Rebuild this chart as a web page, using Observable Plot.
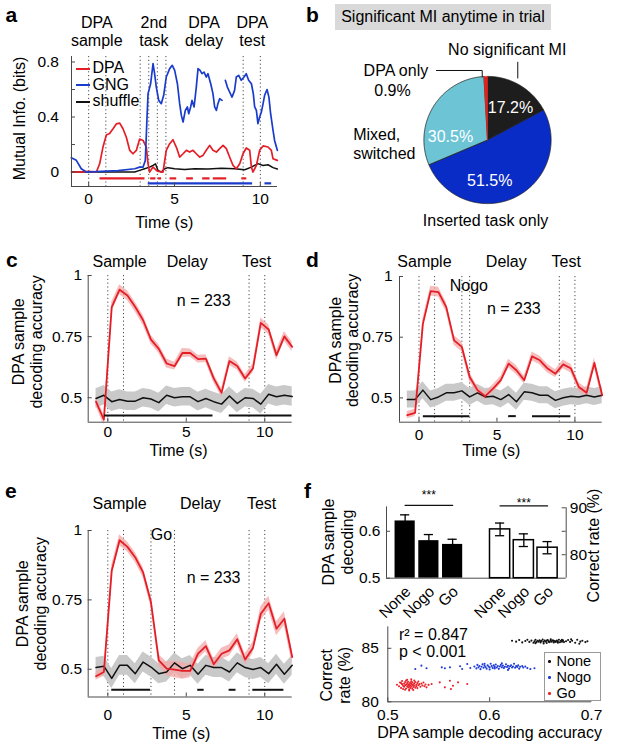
<!DOCTYPE html>
<html><head><meta charset="utf-8">
<script src="https://cdn.jsdelivr.net/npm/d3@7"></script>
<script src="https://cdn.jsdelivr.net/npm/@observablehq/plot@0.6"></script>
<style>
body{margin:0;background:#fff;}
#fig{position:relative;width:617px;height:748px;overflow:hidden;background:#fff;font-family:Arial,"Liberation Sans",Helvetica,sans-serif;color:#000;}
.letter{position:absolute;font-size:21px;font-weight:bold;line-height:21px;}
</style></head>
<body><div id="fig"></div>
<script>
// ---------------- DATA ----------------
// Panel a: mutual information traces
const aDpaT = [-1,-0.5,0,0.45,0.64,0.83,1.03,1.22,1.42,1.61,1.81,2.0,2.19,2.39,2.58,2.78,2.97,3.17,3.36,3.46,3.55,3.75,4.0,4.33,4.52,4.72,4.91,5.11,5.30,5.50,5.69,5.88,6.08,6.27,6.47,6.66,6.85,7.05,7.24,7.44,7.63,7.83,8.02,8.21,8.41,8.60,8.80,8.99,9.18,9.38,9.48,9.57,9.77,9.96,10.16,10.45,10.64,10.74,10.99];
const aDpaV = [0,0,0.005,0,0.06,0.18,0.27,0.28,0.315,0.35,0.356,0.315,0.255,0.158,0.133,0.158,0.24,0.23,0.18,0.06,0,0.036,0.007,0,0.158,0.206,0.235,0.18,0.109,0.133,0.158,0.145,0.158,0.133,0.109,0.121,0.158,0.194,0.158,0.145,0.17,0.194,0.17,0.109,0.048,0.024,0.061,0.133,0.175,0.158,0.036,0,0.048,0.158,0.19,0.182,0.158,0.097,0.085];
const aGngT = [-1.01,-0.72,-0.43,-0.14,0.74,1.71,2.68,2.97,3.17,3.30,3.40,3.46,3.61,3.75,3.84,3.94,4.08,4.23,4.37,4.52,4.72,4.87,5.01,5.17,5.30,5.40,5.50,5.63,5.75,5.83,5.94,6.02,6.14,6.27,6.37,6.49,6.60,6.72,6.85,6.95,7.11,7.24,7.34,7.44,7.53,7.63,7.77,7.87,7.96,8.08,8.21,8.35,8.50,8.60,8.74,8.89,9.05,9.18,9.32,9.48,9.59,9.67,9.77,9.86,9.96,10.06,10.16,10.25,10.39,10.50,10.60,10.74,10.83,10.99];
const aGngV = [0.104,0.085,0.024,0,0.005,0.01,0.024,0.036,0.036,0.085,0.4,0.57,0.642,0.788,0.715,0.618,0.521,0.497,0.558,0.691,0.752,0.776,0.739,0.642,0.497,0.412,0.364,0.448,0.473,0.424,0.473,0.521,0.473,0.618,0.752,0.739,0.715,0.727,0.691,0.715,0.642,0.57,0.473,0.448,0.497,0.533,0.521,NaN,0.667,0.618,0.582,0.545,0.594,0.691,0.703,0.667,0.691,0.715,0.667,0.642,0.57,0.473,0.448,0.352,0.4,0.436,0.497,0.558,0.6,0.545,0.424,0.303,0.23,0.158];
const aShufT = [-1,2.68,2.97,3.26,3.55,3.75,3.89,4.04,4.23,4.43,4.62,5.01,5.59,6.18,6.95,7.73,8.50,9.09,9.48,9.86,10.16,10.45,10.74,10.99];
const aShufV = [0,0,0.012,0.024,0.036,0.048,0.06,0.012,0,0.024,0.032,0.024,0.019,0.024,0.022,0.027,0.024,0.017,0.036,0.061,0.048,0.053,0.032,0.022];
const aSigDpa = [[0.66,3.28],[3.61,3.92],[4.06,4.25],[4.74,5.13],[5.71,6.1],[6.64,7.07],[7.26,8.04],[8.92,9.21]];
const aSigGng = [[3.47,9.55],[10.27,10.66]];
const aEvents = [0,1,3,3.5,4,4.5,9,10];
const aPhaseNames = ["DPA\nsample","2nd\ntask","DPA\ndelay","DPA\ntest"];
const aSeriesNames = ["DPA","GNG","shuffle"];

// Panel b: pie
const pieNames = ["No significant MI","Inserted task only","Mixed, switched","DPA only"];
const pieValues = [17.2, 51.5, 30.5, 0.9];

// Panels c-e: decoding accuracy (0.5 s bins)
const decT = [-0.75,-0.25,0.25,0.75,1.25,1.75,2.25,2.75,3.25,3.75,4.25,4.75,5.25,5.75,6.25,6.75,7.25,7.75,8.25,8.75,9.25,9.75,10.25,10.75,11.25,11.75];
const cRed   = [0.484,0.41,0.871,0.942,0.918,0.871,0.817,0.738,0.70,0.64,0.629,0.683,0.683,0.658,0.66,0.579,0.52,0.65,0.63,0.579,0.62,0.806,0.779,0.674,0.751,0.708];
const cRedSE = [0.02,0.02,0.02,0.02,0.02,0.02,0.02,0.018,0.018,0.018,0.016,0.018,0.016,0.016,0.016,0.018,0.018,0.018,0.016,0.016,0.018,0.02,0.02,0.02,0.02,0.02];
const cShuf  = [0.497,0.51,0.484,0.493,0.486,0.486,0.50,0.495,0.48,0.51,0.50,0.504,0.504,0.484,0.497,0.484,0.474,0.507,0.477,0.50,0.497,0.474,0.514,0.504,0.51,0.505];
const cShufSE= [0.04,0.04,0.04,0.04,0.038,0.038,0.038,0.038,0.038,0.038,0.038,0.038,0.038,0.038,0.038,0.038,0.038,0.038,0.038,0.038,0.038,0.04,0.04,0.04,0.04,0.04];
const cSig = [[-0.21,6.7],[7.74,11.74]];
const dRed   = [0.429,0.438,0.805,0.94,0.936,0.874,0.737,0.71,0.586,0.532,0.507,0.538,0.573,0.641,0.614,0.573,0.671,0.655,0.621,0.6,0.638,0.621,0.545,0.521,0.644,0.511];
const dRedSE = [0.015,0.015,0.02,0.02,0.02,0.02,0.02,0.02,0.018,0.016,0.016,0.016,0.016,0.018,0.018,0.016,0.018,0.018,0.018,0.016,0.018,0.018,0.018,0.018,0.02,0.02];
const dShuf  = [0.493,0.493,0.532,0.493,0.504,0.521,0.521,0.529,0.504,0.521,0.504,0.507,0.493,0.514,0.484,0.525,0.521,0.511,0.511,0.49,0.501,0.507,0.504,0.511,0.504,0.511];
const dShufSE= [0.035,0.035,0.035,0.035,0.035,0.035,0.035,0.035,0.035,0.035,0.035,0.035,0.035,0.035,0.035,0.035,0.035,0.035,0.035,0.035,0.035,0.035,0.035,0.035,0.035,0.035];
const dSig = [[0.28,3.26],[5.75,6.24],[7.28,9.74]];
const eRed   = [0.475,0.49,0.855,0.965,0.941,0.903,0.849,0.742,0.532,0.502,0.499,0.494,0.494,0.556,0.583,0.518,0.556,0.568,0.608,0.535,0.577,0.70,0.738,0.646,0.682,0.544];
const eRedSE = [0.015,0.015,0.02,0.02,0.018,0.018,0.018,0.018,0.02,0.025,0.03,0.03,0.025,0.02,0.02,0.02,0.02,0.02,0.02,0.02,0.02,0.025,0.025,0.025,0.025,0.025];
const eShuf  = [0.506,0.511,0.467,0.514,0.514,0.484,0.526,0.508,0.484,0.49,0.523,0.502,0.514,0.482,0.514,0.506,0.506,0.49,0.523,0.506,0.499,0.506,0.484,0.518,0.482,0.514];
const eShufSE= [0.036,0.036,0.036,0.036,0.036,0.036,0.036,0.036,0.036,0.036,0.036,0.036,0.036,0.036,0.036,0.036,0.036,0.036,0.036,0.036,0.036,0.036,0.036,0.036,0.036,0.036];
const eSig = [[0.25,2.72],[5.73,6.14],[7.73,8.17],[9.24,11.22]];
const decPhaseNames = ["Sample","Delay","Test"];

// Panel f: bars
const fCond = ["None","Nogo","Go"];
const fDecode = [0.622, 0.580, 0.572];
const fDecodeErr = [0.013, 0.013, 0.011];
const fCorrect = [85.4, 83.1, 81.5];
const fCorrectErr = [1.35, 1.35, 1.3];

// Panel f: scatter (decoding accuracy, correct rate %)
const fNonePts = [[0.622,85.70],[0.626,85.62],[0.629,85.78],[0.632,85.55],[0.635,85.68],[0.637,85.80],[0.639,85.60],[0.641,85.72],[0.643,85.52],[0.644,85.66],[0.645,85.80],[0.646,85.58],[0.647,85.70],[0.648,85.62],[0.649,85.75],[0.650,85.55],[0.651,85.68],[0.652,85.82],[0.653,85.60],[0.654,85.72],[0.655,85.64],[0.656,85.50],[0.657,85.78],[0.658,85.66],[0.659,85.58],[0.660,85.70],[0.661,85.62],[0.662,85.75],[0.663,85.55],[0.664,85.68],[0.665,85.60],[0.666,85.72],[0.667,85.64],[0.668,85.80],[0.669,85.57],[0.670,85.69],[0.671,85.62],[0.672,85.74],[0.673,85.58],[0.675,85.66],[0.677,85.78],[0.679,85.60],[0.681,85.70],[0.684,85.52],[0.686,85.80],[0.689,85.62],[0.691,85.70],[0.694,85.58],[0.696,85.66],[0.688,85.42],[0.680,85.85],[0.653,85.45],[0.660,85.83],[0.645,85.48],[0.658,85.62],[0.663,85.70],[0.667,85.52],[0.650,85.66],[0.671,85.80],[0.656,85.72]];
const fNogoPts = [[0.527,83.07],[0.533,83.38],[0.538,83.13],[0.553,83.22],[0.556,83.13],[0.561,83.22],[0.571,83.32],[0.573,83.07],[0.578,83.53],[0.581,83.16],[0.585,83.30],[0.587,83.12],[0.588,83.45],[0.589,83.22],[0.590,83.35],[0.591,83.05],[0.592,83.28],[0.593,83.50],[0.594,83.18],[0.595,83.38],[0.596,83.25],[0.597,83.10],[0.598,83.42],[0.599,83.30],[0.600,83.20],[0.601,83.55],[0.602,83.33],[0.603,83.15],[0.604,83.40],[0.605,83.26],[0.606,83.48],[0.607,83.20],[0.608,83.35],[0.609,83.08],[0.610,83.30],[0.611,83.45],[0.612,83.22],[0.613,83.38],[0.614,83.15],[0.615,83.28],[0.616,83.50],[0.617,83.25],[0.618,83.36],[0.619,83.12],[0.620,83.32],[0.621,83.42],[0.622,83.20],[0.623,83.30],[0.624,83.55],[0.625,83.18],[0.626,83.35],[0.627,83.25],[0.628,83.40],[0.629,83.10],[0.630,83.28],[0.632,83.35],[0.633,83.20],[0.635,83.30],[0.637,83.15],[0.640,83.07],[0.644,83.13],[0.600,83.02],[0.612,83.60],[0.595,83.55],[0.618,82.98],[0.605,83.12]];
const fGoPts = [[0.509,81.60],[0.511,81.45],[0.512,81.80],[0.513,81.30],[0.514,81.65],[0.514,81.95],[0.515,81.50],[0.515,81.20],[0.516,81.70],[0.516,81.40],[0.517,81.85],[0.517,81.55],[0.518,81.25],[0.518,81.62],[0.518,81.98],[0.519,81.45],[0.519,81.75],[0.520,81.35],[0.520,81.58],[0.520,81.88],[0.521,81.15],[0.521,81.66],[0.521,81.48],[0.522,81.78],[0.522,81.30],[0.522,81.55],[0.523,81.92],[0.523,81.42],[0.523,81.68],[0.524,81.22],[0.524,81.58],[0.524,81.82],[0.525,81.38],[0.525,81.62],[0.525,81.10],[0.526,81.72],[0.526,81.50],[0.527,81.85],[0.527,81.32],[0.528,81.60],[0.528,81.45],[0.529,81.75],[0.529,81.28],[0.530,81.55],[0.530,81.90],[0.531,81.65],[0.532,81.40],[0.533,81.70],[0.534,81.52],[0.535,81.80],[0.536,81.45],[0.537,81.62],[0.538,81.35],[0.540,81.58],[0.519,82.05],[0.521,81.05],[0.523,82.10],[0.517,81.12],[0.526,81.98],[0.513,81.75],[0.543,81.66],[0.551,81.82],[0.556,81.35],[0.561,81.97],[0.562,81.19],[0.564,81.50],[0.569,81.82],[0.578,81.66]];
const fStats = ["r\u00B2 = 0.847", "p < 0.001"];

// ---------------- STYLE / HELPERS ----------------
const FONT = 'Arial, "Liberation Sans", Helvetica, sans-serif';
const FS = 16, TFS = 15.5;
const AX = "#4a4a4a";
const RED = "#e41e26";
const BLUE = "#1a3ccc";
const PINK = "#f4a7a7";
const GREYBAND = "#c9c9c9";
const DOT = "1.2,2.6";
const fig = document.getElementById("fig");
const baseStyle = {background: "transparent", overflow: "visible", fontFamily: FONT, fontSize: TFS + "px", color: "#000"};
const MID = {textAnchor: "middle", lineAnchor: "middle"};

function place(svg, left, top) {
  svg.style.position = "absolute";
  svg.style.left = left + "px";
  svg.style.top = top + "px";
  fig.appendChild(svg);
}
function html(inner, css) {
  const d = document.createElement("div");
  d.innerHTML = inner;
  d.style.cssText = "position:absolute;white-space:nowrap;" + css;
  fig.appendChild(d);
  return d;
}
function frameAxes({x0, y0, xt, yt, xl, yl, fw, fh, xPad, yPad, xFmt, yFmt}) {
  return [
    Plot.ruleX([x0], {stroke: AX}),
    Plot.ruleY([y0], {stroke: AX}),
    Plot.tickX(xt, {x: d => d, stroke: AX, insetTop: fh - 4}),
    Plot.tickY(yt, {y: d => d, stroke: AX, insetRight: fw - 4}),
    Plot.axisX({ticks: xl, tickSize: 0, tickPadding: xPad, label: null, tickFormat: xFmt, fontSize: TFS}),
    Plot.axisY({ticks: yl, tickSize: 0, tickPadding: yPad, label: null, tickFormat: yFmt, fontSize: TFS})
  ];
}
const zip = (t, v) => t.map((x, i) => ({t: x, v: v[i]}));

// ---------------- PANEL a ----------------
{
  const W = 300, H = 232, ml = 71, mr = 23, mt = 56, mb = 46;
  const fw = W - ml - mr, fh = H - mt - mb;
  const phaseX = [0.47, 3.8, 6.72, 9.53];
  const svg = Plot.plot({
    width: W, height: H, marginLeft: ml, marginRight: mr, marginTop: mt, marginBottom: mb, style: baseStyle,
    x: {domain: [-1, 11]}, y: {domain: [-0.105, 0.84]},
    marks: [
      Plot.ruleX(aEvents, {stroke: AX, strokeDasharray: DOT}),
      Plot.line(zip(aShufT, aShufV), {x: "t", y: "v", stroke: "#111", strokeWidth: 1.5}),
      Plot.line(zip(aDpaT, aDpaV), {x: "t", y: "v", stroke: RED, strokeWidth: 1.7}),
      Plot.line(zip(aGngT, aGngV), {x: "t", y: "v", stroke: BLUE, strokeWidth: 1.7}),
      Plot.ruleY(aSigDpa, {x1: d => d[0], x2: d => d[1], y: -0.046, stroke: RED, strokeWidth: 2.2}),
      Plot.ruleY(aSigGng, {x1: d => d[0], x2: d => d[1], y: -0.082, stroke: BLUE, strokeWidth: 2.2}),
      ...frameAxes({x0: -1, y0: -0.105, xt: [0, 5, 10], yt: [0, 0.2, 0.4, 0.6, 0.8], xl: [0, 5, 10], yl: [0, 0.4, 0.8],
        fw, fh, xPad: 6.3, yPad: 12.5, xFmt: d => String(d), yFmt: d => d === 0 ? "0" : d.toFixed(1)}),
      Plot.text(aPhaseNames, {x: (d, i) => phaseX[i], text: d => d, frameAnchor: "top", dy: -25, fontSize: FS, lineHeight: 1.13, ...MID}),
      Plot.text(["Time (s)"], {x: 4.4, frameAnchor: "bottom", dy: 36, fontSize: FS, ...MID}),
      Plot.text(["Mutual Info. (bits)"], {frameAnchor: "left", dx: -52, dy: -3, rotate: -90, fontSize: FS, ...MID})
    ]
  });
  place(svg, 0, 0);
}

// ---------------- PANEL b (pie) ----------------
{
  const W = 317, H = 235, R = 63.6, cx = 187, cy = 139.5;
  const pieColors = ["#1d1d1d", "#0a2cc6", "#6cc4d5", "#e3211c"];
  const arcs = d3.pie().sort(null).value(d => d)(pieValues);
  const sliceMarks = arcs.map((a, i) => {
    const pts = [{x: 0, y: 0}];
    const n = Math.max(3, Math.ceil((a.endAngle - a.startAngle) / 0.01));
    for (let j = 0; j <= n; j++) {
      const ang = a.startAngle + (a.endAngle - a.startAngle) * j / n;
      pts.push({x: Math.sin(ang), y: Math.cos(ang)});
    }
    pts.push({x: 0, y: 0});
    const isRed = i === 3;
    return Plot.line(pts, {x: "x", y: "y", fill: pieColors[i], stroke: isRed ? pieColors[i] : "#222",
      strokeWidth: isRed ? 0.6 : 0.8, strokeLinejoin: "round"});
  });
  const pct = pieValues.map(v => v.toFixed(1) + "%");
  const svg = Plot.plot({
    width: W, height: H, margin: 0, style: baseStyle,
    x: {domain: [-cx / R, (W - cx) / R], axis: null},
    y: {domain: [(cy - H) / R, cy / R], axis: null},
    marks: [
      ...sliceMarks,
      Plot.text([pct[0]], {x: 0.362, y: 0.506, fill: "white", fontSize: FS}),
      Plot.text([pct[1]], {x: 0.035, y: -0.637, fill: "white", fontSize: FS}),
      Plot.text([pct[2]], {x: -0.582, y: 0.044, fill: "white", fontSize: FS}),
      Plot.text([pieNames[0]], {x: 0.31, y: 1.423, fontSize: FS}),
      Plot.line([{x: 0.476, y: 1.223}, {x: 0.476, y: 0.975}], {x: "x", y: "y", stroke: "#111", strokeWidth: 1}),
      Plot.text([pieNames[3]], {x: -0.932, y: 1.093, textAnchor: "end", fontSize: FS}),
      Plot.text([pct[3]], {x: -1.494, y: 0.778, fontSize: FS}),
      Plot.line([{x: -0.802, y: 1.093}, {x: -0.083, y: 1.093}, {x: -0.083, y: 0.991}], {x: "x", y: "y", stroke: "#111", strokeWidth: 1}),
      Plot.text([pieNames[2].replace(" ", "\n")], {x: -2.112, y: -0.047, textAnchor: "start", fontSize: FS, lineHeight: 1.2}),
      Plot.text([pieNames[1]], {x: -0.031, y: -1.266, fontSize: FS})
    ]
  });
  place(svg, 300, 0);
}

// ---------------- PANELS c, d, e ----------------
function decodePanel(cfg) {
  const {left, top, W, H, ml, mr, mt, mb, red, redSE, shuf, shufSE, events, sig, sigY, phaseX, phaseDy,
    notes, timeX, timeDy, ylDx, ylDy, xPad, yPad} = cfg;
  const fw = W - ml - mr, fh = H - mt - mb;
  const rows = decT.map((t, i) => ({t, r: red[i], rlo: red[i] - redSE[i], rhi: red[i] + redSE[i],
    s: shuf[i], slo: shuf[i] - shufSE[i], shi: shuf[i] + shufSE[i]}));
  const svg = Plot.plot({
    width: W, height: H, marginLeft: ml, marginRight: mr, marginTop: mt, marginBottom: mb, style: baseStyle,
    x: {domain: [-1.25, 11.75]}, y: {domain: [0.4, 1.0]},
    marks: [
      Plot.ruleX(events, {stroke: AX, strokeDasharray: DOT}),
      Plot.areaY(rows, {x: "t", y1: "slo", y2: "shi", fill: GREYBAND}),
      Plot.areaY(rows, {x: "t", y1: "rlo", y2: "rhi", fill: PINK, fillOpacity: 0.75}),
      Plot.line(rows, {x: "t", y: "s", stroke: "#111", strokeWidth: 1.5}),
      Plot.line(rows, {x: "t", y: "r", stroke: RED, strokeWidth: 1.8}),
      Plot.ruleY(sig, {x1: d => d[0], x2: d => d[1], y: sigY, stroke: "#111", strokeWidth: 2}),
      ...frameAxes({x0: -1.25, y0: 0.4, xt: [0, 5, 10], yt: [0.5, 0.75, 1], xl: [0, 5, 10], yl: [0.5, 0.75, 1],
        fw, fh, xPad, yPad, xFmt: d => String(d), yFmt: d => String(d)}),
      Plot.text(decPhaseNames, {x: (d, i) => phaseX[i], text: d => d, frameAnchor: "top", dy: phaseDy, fontSize: FS, ...MID}),
      ...notes.map(n => Plot.text([n.text], {x: n.x, y: n.y, fontSize: FS})),
      Plot.text(["Time (s)"], {x: timeX, frameAnchor: "bottom", dy: timeDy, fontSize: FS, ...MID}),
      Plot.text(["DPA sample\ndecoding accuracy"], {frameAnchor: "left", dx: ylDx, dy: ylDy, rotate: -90, fontSize: FS, lineHeight: 1.1, ...MID})
    ]
  });
  place(svg, left, top);
}
decodePanel({left: 0, top: 240, W: 300, H: 220, ml: 87.7, mr: 8.3, mt: 35, mb: 38.3,
  red: cRed, redSE: cRedSE, shuf: cShuf, shufSE: cShufSE, events: [0, 1, 9, 10], sig: cSig, sigY: 0.427,
  phaseX: [0.75, 5.06, 9.48], phaseDy: -14, notes: [{text: "n = 233", x: 6.11, y: 0.898}],
  timeX: 4.5, timeDy: 28.3, ylDx: -61, ylDy: -7, xPad: 4, yPad: 6});
decodePanel({left: 300, top: 240, W: 317, H: 220, ml: 99, mr: 15.3, mt: 36, mb: 38.3,
  red: dRed, redSE: dRedSE, shuf: dShuf, shufSE: dShufSE, events: [0, 1, 2.75, 3.25, 9, 10], sig: dSig, sigY: 0.425,
  phaseX: [0.35, 5.6, 9.44], phaseDy: -15, notes: [{text: "Nogo", x: 3.2, y: 0.963}, {text: "n = 233", x: 6.08, y: 0.867}],
  timeX: 4.64, timeDy: 28.3, ylDx: -55.7, ylDy: -9, xPad: 6.3, yPad: 7});
decodePanel({left: 0, top: 470, W: 300, H: 278, ml: 87.7, mr: 8.3, mt: 60, mb: 51.5,
  red: eRed, redSE: eRedSE, shuf: eShuf, shufSE: eShufSE, events: [0, 1, 2.75, 4.25, 9, 10], sig: eSig, sigY: 0.426,
  phaseX: [0.75, 5.9, 9.8], phaseDy: -27, notes: [{text: "Go", x: 3.42, y: 0.986}, {text: "n = 233", x: 6.74, y: 0.83}],
  timeX: 4.68, timeDy: 36.8, ylDx: -56.7, ylDy: -10, xPad: 12.3, yPad: 6});

// ---------------- PANEL f (bars) ----------------
{
  const W = 317, H = 148, ml = 86, mr = 51.3, mt = 37.3, mb = 40.3;
  const fw = W - ml - mr, fh = H - mt - mb;
  const keysL = fCond.map(c => "L" + c), keysR = fCond.map(c => "R" + c);
  const xband = {type: "band", domain: [...keysL, "gap", ...keysR], paddingInner: 0.15, paddingOuter: 0.36, axis: null, round: false};
  const rowsL = fCond.map((c, i) => ({c, k: keysL[i], v: fDecode[i], lo: fDecode[i] - fDecodeErr[i], hi: fDecode[i] + fDecodeErr[i]}));
  const rowsR = fCond.map((c, i) => ({c, k: keysR[i], v: fCorrect[i], lo: fCorrect[i] - fCorrectErr[i], hi: fCorrect[i] + fCorrectErr[i]}));
  const common = {width: W, height: H, marginLeft: ml, marginRight: mr, marginTop: mt, marginBottom: mb, style: baseStyle, x: xband};
  const left = Plot.plot({
    ...common, y: {domain: [0.5, 0.65], axis: null},
    marks: [
      Plot.barY(rowsL, {x: "k", y1: 0.5, y2: "v", fill: "#000"}),
      Plot.ruleX(rowsL, {x: "k", y1: "lo", y2: "hi", stroke: "#000", strokeWidth: 1.3}),
      Plot.tickY(rowsL, {x: "k", y: "lo", stroke: "#000", strokeWidth: 1.3, insetLeft: 5.5, insetRight: 5.5}),
      Plot.tickY(rowsL, {x: "k", y: "hi", stroke: "#000", strokeWidth: 1.3, insetLeft: 5.5, insetRight: 5.5}),
      Plot.ruleY([0.5], {stroke: AX}),
      Plot.ruleX([0], {x: null, y1: 0.5, y2: 0.652, dx: -fw / 2, stroke: AX}),
      Plot.tickY([0.5, 0.6], {y: d => d, stroke: AX, insetRight: fw - 4}),
      Plot.axisY({ticks: [0.5, 0.6], tickSize: 0, tickPadding: 6, label: null, tickFormat: d => d.toFixed(1), fontSize: TFS}),
      Plot.text(rowsL, {x: "k", text: "c", frameAnchor: "bottom", rotate: -45, textAnchor: "end", lineAnchor: "middle", dy: 11, dx: 3, fontSize: TFS}),
      Plot.line([keysL[0], keysL[2]], {x: d => d, y: 0.655, stroke: "#111", strokeWidth: 1.3}),
      Plot.text(["***"], {x: () => keysL[1], y: 0.676, fontSize: 12}),
      Plot.text(["DPA sample\ndecoding"], {frameAnchor: "left", dx: -49.3, dy: -1, rotate: -90, fontSize: FS, lineHeight: 1.2, ...MID})
    ]
  });
  place(left, 300, 470);
  const right = Plot.plot({
    ...common, y: {domain: [75, 90], axis: null},
    marks: [
      Plot.barY(rowsR, {x: "k", y1: 75, y2: "v", fill: "white", stroke: "#000", strokeWidth: 1.5}),
      Plot.ruleX(rowsR, {x: "k", y1: "lo", y2: "hi", stroke: "#000", strokeWidth: 1.3}),
      Plot.tickY(rowsR, {x: "k", y: "lo", stroke: "#000", strokeWidth: 1.3, insetLeft: 5.5, insetRight: 5.5}),
      Plot.tickY(rowsR, {x: "k", y: "hi", stroke: "#000", strokeWidth: 1.3, insetLeft: 5.5, insetRight: 5.5}),
      Plot.ruleX([0], {x: null, y1: 75, y2: 90, dx: fw / 2, stroke: AX}),
      Plot.tickY([80, 85, 90], {y: d => d, stroke: AX, insetLeft: fw - 4}),
      Plot.axisY({anchor: "right", ticks: [80, 90], tickSize: 0, tickPadding: 3.6, label: null, fontSize: TFS}),
      Plot.text(rowsR, {x: "k", text: "c", frameAnchor: "bottom", rotate: -45, textAnchor: "end", lineAnchor: "middle", dy: 11, dx: 3, fontSize: TFS}),
      Plot.line([keysR[0], keysR[2]], {x: d => d, y: 90.4, stroke: "#111", strokeWidth: 1.3}),
      Plot.text(["***"], {x: () => keysR[1], y: 91.05, fontSize: 12}),
      Plot.text(["Correct rate (%)"], {frameAnchor: "right", dx: 27.6, dy: 2.5, rotate: -90, fontSize: FS, ...MID})
    ]
  });
  place(right, 300, 470);
}

// ---------------- PANEL f (scatter) ----------------
{
  const W = 317, H = 138, ml = 87.3, mr = 26, mt = 16.4, mb = 46.7;
  const fw = W - ml - mr, fh = H - mt - mb;
  const pts = (arr) => arr.map(p => ({x: p[0], y: p[1]}));
  const svg = Plot.plot({
    width: W, height: H, marginLeft: ml, marginRight: mr, marginTop: mt, marginBottom: mb, style: baseStyle,
    x: {domain: [0.5, 0.7]}, y: {domain: [80, 87]},
    marks: [
      Plot.dot(pts(fNonePts), {x: "x", y: "y", r: 1.05, fill: "#111", stroke: null}),
      Plot.dot(pts(fNogoPts), {x: "x", y: "y", r: 1.05, fill: "#1f3bd6", stroke: null}),
      Plot.dot(pts(fGoPts), {x: "x", y: "y", r: 1.05, fill: "#e8232a", stroke: null}),
      ...frameAxes({x0: 0.5, y0: 80, xt: [0.5, 0.6, 0.7], yt: [80, 85], xl: [0.5, 0.6, 0.7], yl: [80, 85],
        fw, fh, xPad: 7.3, yPad: 9, xFmt: d => d.toFixed(1), yFmt: d => String(d)}),
      Plot.text([fStats[0]], {x: 0.511, y: 86.29, textAnchor: "start", fontSize: FS}),
      Plot.text([fStats[1]], {x: 0.511, y: 84.62, textAnchor: "start", fontSize: FS}),
      Plot.text(["DPA sample decoding accuracy"], {x: 0.6, frameAnchor: "bottom", dy: 31.4, fontSize: FS, ...MID}),
      Plot.text(["Correct\nrate (%)"], {frameAnchor: "left", dx: -52.3, dy: 11, rotate: -90, fontSize: FS, lineHeight: 1.08, ...MID})
    ]
  });
  place(svg, 300, 610);
}

// ---------------- HTML overlays: letters, title box, legends ----------------
[["a", 5.5, 4], ["b", 306, 4], ["c", 6, 249], ["d", 306, 249], ["e", 5, 480], ["f", 304, 480]].forEach(([t, x, y]) => {
  const d = html(t, `left:${x}px;top:${y}px;`);
  d.className = "letter";
});
html("Significant MI anytime in trial",
  "left:335px;top:4px;width:216px;height:25.5px;line-height:25.5px;text-align:center;background:#d9d9d9;font-size:16px;");
// panel a legend
const aLegColors = [RED, BLUE, "#111"];
aSeriesNames.forEach((name, i) => {
  const y = [68, 84.5, 101][i];
  html(`<span style="display:inline-block;width:14px;height:0;border-top:2px solid ${aLegColors[i]};vertical-align:middle;margin-right:3px;"></span>${name}`,
    `left:75.5px;top:${y - 8}px;height:16px;line-height:16px;font-size:16px;`);
});
// scatter legend
const legColors = ["#111", "#1f3bd6", "#e8232a"];
html("", "left:544px;top:652px;width:57px;height:49px;border:1px solid #9a9a9a;background:#fff;box-sizing:border-box;");
fCond.forEach((c, i) => {
  html(`<span style="display:inline-block;width:2.5px;height:2.5px;border-radius:50%;background:${legColors[i]};vertical-align:middle;margin-right:6px;"></span>${c}`,
    `left:548px;top:${[660.5, 676.5, 692.5][i] - 7}px;height:14px;line-height:14px;font-size:14.5px;`);
});
</script>
</body></html>
